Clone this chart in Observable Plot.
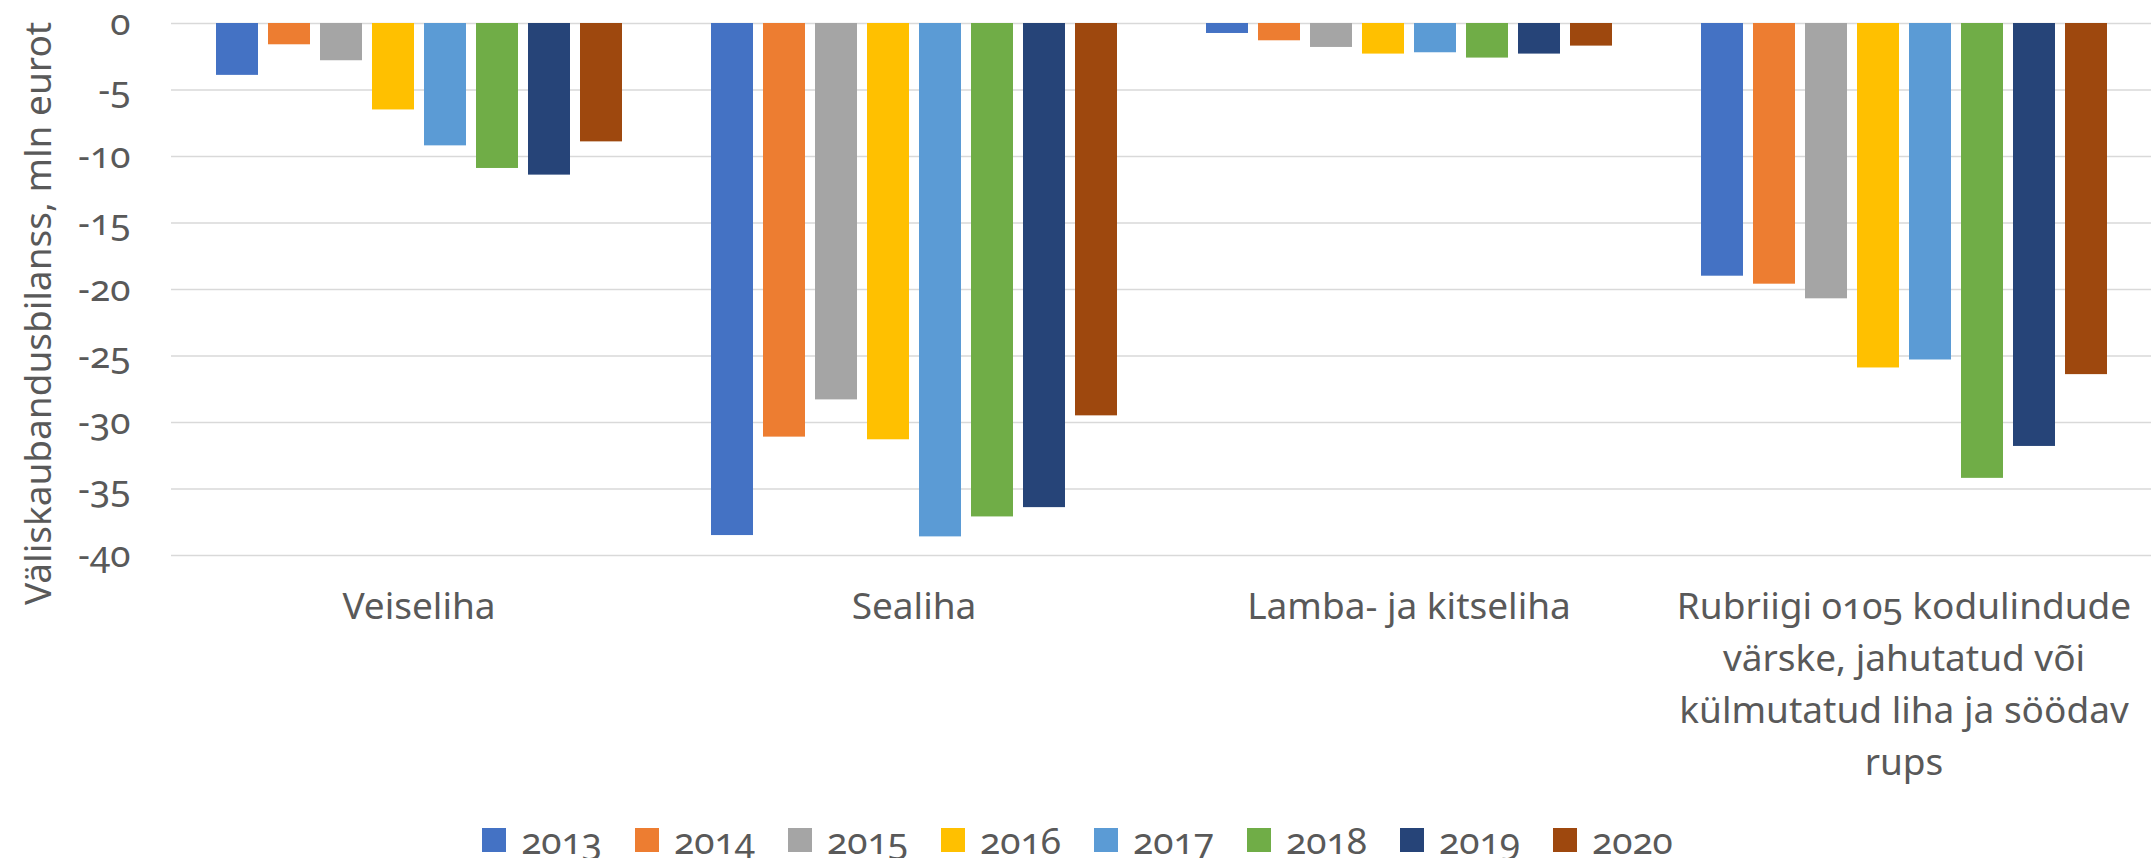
<!DOCTYPE html>
<html>
<head>
<meta charset="utf-8">
<script src="https://cdn.jsdelivr.net/npm/d3@7"></script>
<script src="https://cdn.jsdelivr.net/npm/@observablehq/plot@0.6"></script>
<style>
  body { margin: 0; background: #fff; }
  #chart svg { display: block; }
  #legend { margin-top: 31px; }
  #legend > div { justify-content: center !important; margin: 0 !important; width: 100%; min-height: 0 !important;
    font-family: 'Noto Sans', sans-serif !important; font-size: 37px !important; color: #595959 !important;
    font-variant-numeric: oldstyle-nums !important; line-height: 1 !important; }
  #legend [class$="-swatch"] { margin-right: 33px !important; font-size: 37px !important; line-height: 1 !important; }
  #legend [class$="-swatch"]:last-child { margin-right: 0 !important; }
  #legend [class$="-swatch"] > svg { margin-right: 15px !important; width: 24px !important; height: 24px !important; }
</style>
</head>
<body>
<div id="chart"></div>
<div id="legend"></div>
<script>
const categories = ["Veiseliha", "Sealiha", "Lamba- ja kitseliha", "Rubriigi 0105 kodulindude värske, jahutatud või külmutatud liha ja söödav rups"];
const categoryLabels = ["Veiseliha", "Sealiha", "Lamba- ja kitseliha", "Rubriigi 0105 kodulindude\nvärske, jahutatud või\nkülmutatud liha ja söödav\nrups"];
const years = ["2013", "2014", "2015", "2016", "2017", "2018", "2019", "2020"];
const colors = ["#4472C4", "#ED7D31", "#A5A5A5", "#FFC000", "#5B9BD5", "#70AD47", "#264478", "#9E480E"];
const veiseliha = [-3.9, -1.6, -2.8, -6.5, -9.2, -10.9, -11.4, -8.9];
const sealiha = [-38.5, -31.1, -28.3, -31.3, -38.6, -37.1, -36.4, -29.5];
const lambaKitseliha = [-0.75, -1.3, -1.8, -2.3, -2.2, -2.6, -2.3, -1.7];
const rubriigi0105 = [-19.0, -19.6, -20.7, -25.9, -25.3, -34.2, -31.8, -26.4];
const yTicks = [0, -5, -10, -15, -20, -25, -30, -35, -40];
const yTitle = "Väliskaubandusbilanss, mln eurot";

const series = [veiseliha, sealiha, lambaKitseliha, rubriigi0105];
const data = categories.flatMap((c, i) => years.map((y, j) => ({category: c, year: y, value: series[i][j]})));
const labelMap = new Map(categories.map((c, i) => [c, categoryLabels[i]]));

const font = "'Noto Sans', sans-serif";
const plot = Plot.plot({
  width: 2155,
  height: 790,
  marginTop: 23,
  marginBottom: 235,
  marginLeft: 170,
  marginRight: 4,
  style: {fontFamily: font, fontSize: "37px", color: "#595959", fontVariantNumeric: "oldstyle-nums", background: "#fff", overflow: "visible"},
  fx: {domain: categories, padding: 0, label: null},
  x: {domain: years, paddingInner: 0.2, paddingOuter: 0.85, axis: null},
  y: {domain: [-40, 0], label: null},
  color: {domain: years, range: colors},
  marks: [
    Plot.gridY(yTicks, {stroke: "#d9d9d9", strokeOpacity: 1, strokeWidth: 1.5}),
    Plot.barY(data, {fx: "category", x: "year", y: "value", fill: "year"}),
    Plot.axisY(yTicks, {tickSize: 0, tickPadding: 41, tickFormat: d => String(d), label: null, fontVariant: "oldstyle-nums"}),
    Plot.axisFx({anchor: "bottom", tickSize: 0, tickPadding: 27, tickFormat: c => labelMap.get(c), lineHeight: 1.4, lineAnchor: "top", label: null, fontVariant: "oldstyle-nums"}),
    Plot.text([yTitle], {fx: () => categories[0], frameAnchor: "left", textAnchor: "middle", rotate: -90, dx: -132, dy: 24, text: d => d, fill: "#595959"})
  ]
});
document.getElementById("chart").appendChild(plot);

const legendStyle = {fontFamily: font, fontSize: "37px", color: "#595959", fontVariantNumeric: "oldstyle-nums"};
const legend = Plot.legend({
  color: {type: "ordinal", domain: years, range: colors, legend: "swatches", swatchSize: 24, style: legendStyle},
  legend: "swatches",
  swatchSize: 24,
  style: legendStyle
});
document.getElementById("legend").appendChild(legend);
</script>
</body>
</html>
